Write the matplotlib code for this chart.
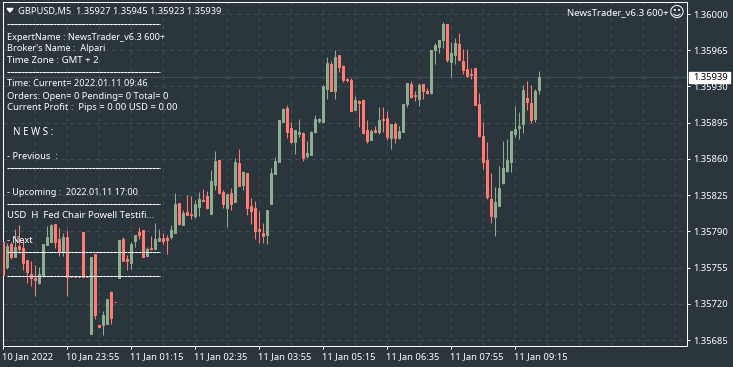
import matplotlib
matplotlib.use('Agg')
import matplotlib.pyplot as plt
from matplotlib.lines import Line2D
from matplotlib.patches import Polygon, Rectangle
from matplotlib.transforms import ScaledTranslation

# GBPUSD M5, prices are stored as points above 1.35000
base_price = 1.35

opens = [780, 756, 778, 765, 776, 774, 762, 749, 745, 740,
         748, 777, 780, 797, 783, 770, 785, 746, 746, 746,
         789, 746, 691, 768, 700, 700, 701, 731, 722, 745,
         783, 763, 759, 781, 789, 791, 766, 774, 773, 781,
         784, 784, 785, 788, 817, 796, 809, 807, 805, 814,
         820, 824, 807, 835, 859, 828, 813, 827, 818, 856,
         835, 846, 815, 813, 792, 788, 787, 816, 845, 857,
         896, 909, 890, 876, 884, 885, 863, 864, 886, 897,
         896, 928, 952, 926, 960, 950, 937, 936, 907, 916,
         917, 888, 878, 888, 886, 899, 900, 880, 894, 880,
         886, 913, 932, 922, 918, 932, 926, 924, 965, 968,
         975, 990, 954, 960, 971, 955, 947, 942, 948, 913,
         882, 859, 821, 804, 815, 837, 848, 857, 884, 890,
         894, 919, 914, 899, 927]
highs = [780, 779, 780, 792, 796, 783, 762, 761, 758, 756,
         778, 795, 797, 797, 793, 788, 791, 746, 746, 746,
         789, 746, 765, 768, 700, 713, 725, 732, 722, 782,
         785, 767, 780, 787, 794, 791, 775, 786, 798, 792,
         788, 787, 796, 827, 817, 811, 825, 824, 820, 828,
         831, 829, 849, 868, 859, 830, 826, 832, 861, 870,
         848, 846, 822, 819, 810, 798, 811, 851, 862, 898,
         909, 912, 896, 888, 899, 886, 877, 887, 902, 900,
         931, 958, 955, 965, 960, 951, 938, 938, 921, 917,
         918, 898, 889, 892, 910, 910, 906, 894, 896, 892,
         913, 933, 935, 926, 933, 932, 929, 965, 972, 975,
         992, 990, 973, 977, 982, 966, 966, 948, 948, 924,
         896, 876, 846, 833, 853, 877, 879, 887, 911, 905,
         931, 935, 931, 928, 945]
lows = [748, 754, 763, 765, 769, 753, 740, 737, 728, 739,
        746, 777, 780, 774, 766, 766, 728, 746, 746, 746,
        746, 746, 691, 705, 698, 690, 701, 701, 722, 745,
        761, 753, 754, 775, 783, 765, 766, 772, 773, 781,
        778, 768, 783, 788, 796, 796, 806, 802, 803, 805,
        819, 812, 807, 830, 826, 813, 794, 811, 818, 834,
        830, 806, 797, 783, 779, 779, 778, 816, 845, 857,
        896, 880, 875, 865, 881, 858, 861, 864, 885, 895,
        896, 918, 926, 918, 944, 934, 934, 906, 907, 891,
        884, 875, 878, 885, 884, 886, 878, 870, 875, 879,
        886, 910, 919, 916, 911, 918, 923, 923, 952, 962,
        967, 954, 939, 952, 956, 942, 939, 937, 912, 881,
        850, 821, 798, 786, 815, 836, 847, 847, 881, 879,
        885, 907, 895, 896, 923]
closes = [748, 776, 765, 775, 773, 759, 751, 745, 743, 749,
          778, 785, 796, 780, 770, 785, 746, 746, 746, 746,
          746, 746, 765, 709, 698, 709, 725, 706, 722, 782,
          761, 761, 778, 787, 787, 765, 773, 773, 783, 784,
          781, 782, 791, 816, 797, 808, 806, 806, 816, 821,
          819, 813, 839, 858, 827, 816, 826, 816, 857, 834,
          847, 813, 810, 790, 790, 786, 811, 846, 858, 898,
          908, 886, 876, 888, 886, 861, 866, 886, 899, 899,
          930, 953, 926, 958, 949, 936, 936, 906, 917, 914,
          885, 877, 887, 886, 898, 898, 881, 894, 880, 887,
          913, 933, 920, 921, 931, 926, 924, 965, 970, 975,
          990, 956, 962, 972, 956, 946, 940, 941, 912, 882,
          857, 823, 805, 818, 832, 851, 859, 887, 889, 892,
          927, 915, 898, 926, 939]

price_ticks = [1.36000, 1.35965, 1.35930, 1.35895, 1.35860,
               1.35825, 1.35790, 1.35755, 1.35720, 1.35685]
time_labels = ['10 Jan 2022', '10 Jan 23:55', '11 Jan 01:15', '11 Jan 02:35', '11 Jan 03:55',
               '11 Jan 05:15', '11 Jan 06:35', '11 Jan 07:55', '11 Jan 09:15']
current_price = 1.35939

bg = '#2b353c'
grid_col = '#404c56'
up_col = '#8fae8f'
down_col = '#ff7b73'
W, H = 733, 367
font = 'Noto Sans'
fs = 6.6


def fx(px):
    return px / W


def fy(py):
    return 1 - py / H


fig = plt.figure(figsize=(W / 100, H / 100), dpi=100, facecolor=bg)
# axes box in pixels: x 2.5..687, y 2..346
ax = fig.add_axes([fx(2.5), fy(346), (687 - 2.5) / W, 344 / H], facecolor=bg)
ax.set_xlim(-0.125, 171.0)
ax.set_ylim(1.356793, 1.360116)

x = list(range(len(opens)))
o = [base_price + v / 1e5 for v in opens]
h = [base_price + v / 1e5 for v in highs]
l = [base_price + v / 1e5 for v in lows]
c = [base_price + v / 1e5 for v in closes]
colors = [up_col if b > a else down_col for a, b in zip(o, c)]

# wicks and bodies
ax.vlines(x, l, h, colors=colors, linewidth=0.75, zorder=3)
ax.bar(x, [b - a for a, b in zip(o, c)], bottom=o, width=0.6, color=colors,
       edgecolor=colors, linewidth=0.72, zorder=4)

# ticks
ax.set_yticks(price_ticks)
ax.set_yticklabels(['%.5f' % p for p in price_ticks])
ax.set_xticks([i * 16 for i in range(len(time_labels))])
ax.set_xticklabels(time_labels, ha='left')
ax.yaxis.tick_right()
ax.tick_params(axis='both', colors='white', length=2.5, width=0.72, pad=1.8,
               labelsize=fs + 0.2, labelfontfamily=font)
ax.tick_params(axis='x', pad=2)
shift = ScaledTranslation(-1 / 100, 0, fig.dpi_scale_trans)
for lbl in ax.get_xticklabels():
    lbl.set_transform(lbl.get_transform() + shift)

# grid
for g in range(0, 172, 8):
    ax.axvline(g, color=grid_col, lw=0.75, ls=(0, (4, 4)), zorder=1)
for p in price_ticks:
    ax.axhline(p, color=grid_col, lw=0.75, ls=(0, (4, 4)), zorder=1)
ax.axhline(current_price, color=grid_col, lw=0.75, zorder=2)

for s in ax.spines.values():
    s.set_color('white')
    s.set_linewidth(0.75)

# chart header and the expert's text block
fig.text(fx(18), fy(14), 'GBPUSD,M5  1.35927 1.35945 1.35923 1.35939', color='white',
         fontsize=6.7, family=font, va='baseline')
fig.add_artist(Polygon([[fx(7), fy(8.5)], [fx(13), fy(8.5)], [fx(10), fy(12)]], closed=True,
                       color='white', transform=fig.transFigure))
block = [(7, 39.5, 6.6, 'ExpertName : NewsTrader_v6.3 600+'),
         (7, 51, 6.6, "Broker's Name :  Alpari"),
         (7, 63, 6.9, 'Time Zone : GMT + 2'),
         (7, 86.5, 6.6, 'Time: Current= 2022.01.11 09:46'),
         (7, 99, 6.7, 'Orders: Open= 0 Pending= 0 Total= 0'),
         (7, 110.5, 6.85, 'Current Profit :  Pips = 0.00 USD = 0.00'),
         (13, 135, 7.1, 'N E W S :'),
         (7, 159, 6.8, '- Previous  :'),
         (7, 195, 6.5, '- Upcoming :  2022.01.11 17:00'),
         (7, 218, 6.9, 'USD  H  Fed Chair Powell Testifi...'),
         (7, 243, 6.6, '- Next')]
for tx, ty, size, s in block:
    fig.text(fx(tx), fy(ty), s, color='white', fontsize=size, family=font, va='baseline', zorder=10)

# separators of the text block
for ly in [24, 72, 168, 204, 252, 276]:
    fig.add_artist(Line2D([fx(7), fx(160)], [fy(ly), fy(ly)], color='white', lw=0.75,
                          ls=(0, (3, 0.4)), zorder=10))

# top right label with the smiley
fig.text(fx(669), fy(15), 'NewsTrader_v6.3 600+', color='white', fontsize=6.9, family=font,
         va='baseline', ha='right')
fig.text(fx(676.5), fy(12.5), '\u263a', color='white', fontsize=11, family='DejaVu Sans',
         va='center', ha='center')

# current price box
fig.add_artist(Rectangle((fx(689), fy(83)), 41 / W, 11 / H, color='white', transform=fig.transFigure))
fig.text(fx(693), fy(80.5), '%.5f' % current_price, color='black', fontsize=fs + 0.2, family=font,
         va='baseline', zorder=10)

fig.savefig('out.png', dpi=100, facecolor=bg)
